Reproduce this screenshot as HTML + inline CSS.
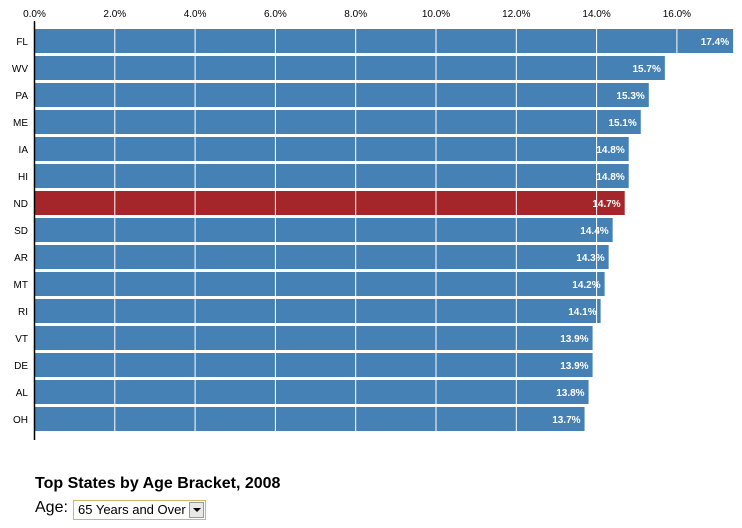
<!DOCTYPE html>
<html><head><meta charset="utf-8"><style>
body{margin:0;width:742px;height:528px;background:#fff;font-family:"Liberation Sans",Arial,sans-serif;overflow:hidden;position:relative}
#title{position:absolute;left:35px;top:475px;font-size:16px;font-weight:bold;color:#000}
#age{position:absolute;left:35px;top:499px;font-size:16px;color:#000}
#sel{position:absolute;left:73px;top:500px;width:133px;height:20px;border:1px solid #d4b46a;box-sizing:border-box;font-size:13px;line-height:18px;padding-left:4px;background:#fff;white-space:nowrap;overflow:hidden}
#arrow{position:absolute;right:1px;top:1px;width:15px;height:16px;background:#e8e8e8;border:1px solid #999;box-sizing:border-box}
#arrow:after{content:"";position:absolute;left:3px;top:5px;border-left:4px solid transparent;border-right:4px solid transparent;border-top:4px solid #000}
</style></head><body>
<svg id="chart" width="742" height="470" style="position:absolute;left:0;top:0"></svg>
<div id="title">Top States by Age Bracket, 2008</div>
<div id="age">Age:</div>
<div id="sel">65 Years and Over<div id="arrow"></div></div>
<script>
const states=["FL","WV","PA","ME","IA","HI","ND","SD","AR","MT","RI","VT","DE","AL","OH"];
const values=[17.4,15.7,15.3,15.1,14.8,14.8,14.7,14.4,14.3,14.2,14.1,13.9,13.9,13.8,13.7];
const highlight="ND";
const ticks=[0,2,4,6,8,10,12,14,16];
const x0=34.5,k=40.15,top0=29,step=27,bh=24;
const X=v=>x0+v*k, Y=i=>top0+i*step;
const svg=document.getElementById('chart'),NS="http://www.w3.org/2000/svg";
function mk(t,a,p){const e=document.createElementNS(NS,t);for(const n in a)e.setAttribute(n,a[n]);(p||svg).appendChild(e);return e;}
states.forEach((s,i)=>{
 const r=mk('rect',{x:X(0),y:Y(i),width:X(values[i])-X(0),height:bh,fill:s===highlight?'#a4262a':'#4581b5'});
 
 
 const l=mk('text',{x:28,y:Y(i)+bh/2+4,'text-anchor':'end','font-size':10,fill:'#000'});l.textContent=s;
 
 
});
ticks.forEach(t=>{
 if(t>0){const g=mk('line',{x1:X(t),x2:X(t),y1:Y(0),y2:Y(states.length-1)+bh,stroke:'#fff','stroke-width':1});
 
 }
 const tl=mk('text',{x:X(t),y:17,'text-anchor':'middle','font-size':10,fill:'#000'});tl.textContent=t.toFixed(1)+'%';
 
 
});
states.forEach((s,i)=>{
 const v=mk('text',{x:X(values[i])-4,y:Y(i)+bh/2+4,'text-anchor':'end','font-size':10,'font-weight':'bold',fill:'#fff'});v.textContent=values[i].toFixed(1)+'%';
 
 
});
const ax=mk('line',{x1:x0,x2:x0,y1:21,y2:440,stroke:'#000','stroke-width':1.5});


</script>
</body></html>
